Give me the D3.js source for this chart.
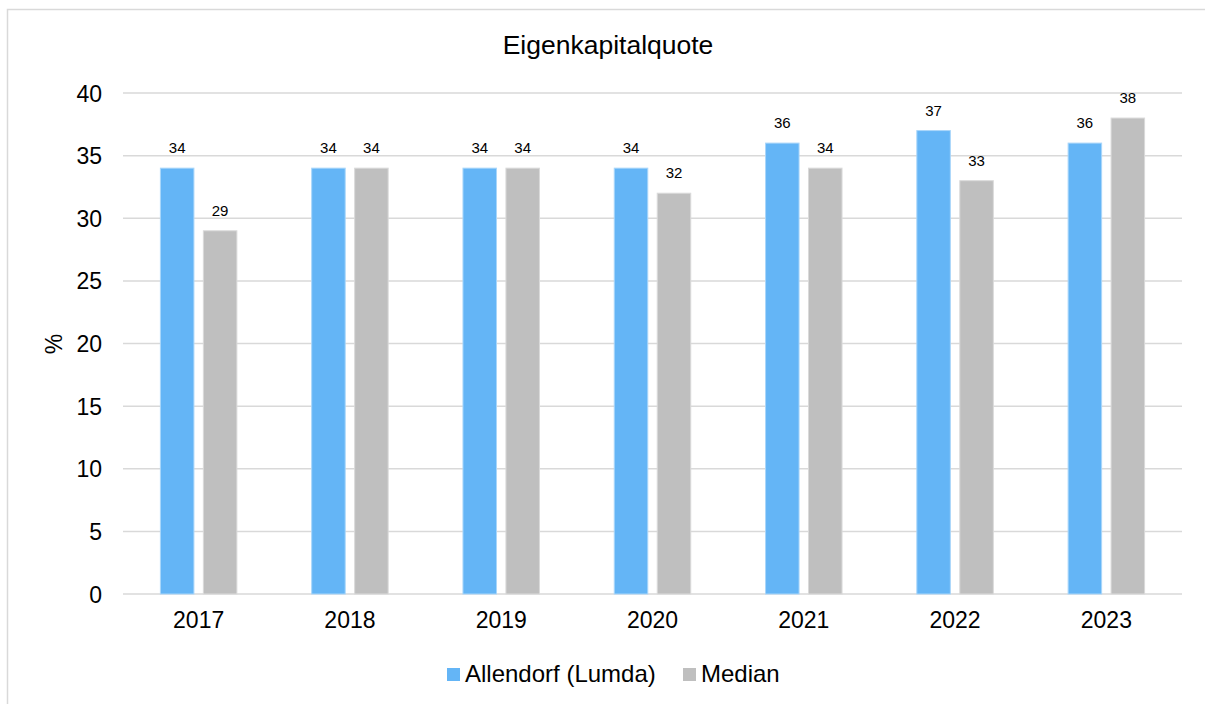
<!DOCTYPE html>
<html>
<head>
<meta charset="utf-8">
<script src="https://cdn.jsdelivr.net/npm/d3@7"></script>
<style>
  body { margin: 0; background: #fff; }
  svg text { font-family: "Liberation Sans", Arial, sans-serif; fill: #000; }
</style>
</head>
<body>
<svg id="chart" width="1205" height="704"></svg>
<script>
// chart data
var years = ["2017", "2018", "2019", "2020", "2021", "2022", "2023"];
var allendorf = [34, 34, 34, 34, 36, 37, 36];
var median = [29, 34, 34, 32, 34, 33, 38];
var seriesNames = ["Allendorf (Lumda)", "Median"];
var seriesColors = ["#64b5f6", "#bfbfbf"];
var yTicks = [0, 5, 10, 15, 20, 25, 30, 35, 40];

var svg = d3.select("#chart");

// outer frame (runs off right / bottom edge like the original)
svg.append("rect")
    .attr("x", 7.5).attr("y", 9.5)
    .attr("width", 1220).attr("height", 720)
    .attr("fill", "none")
    .attr("stroke", "#d9d9d9")
    .attr("stroke-width", 1.5);

var plotLeft = 123, plotRight = 1182, plotTop = 93, plotBottom = 594;

var x = d3.scaleBand().domain(years).range([plotLeft, plotRight]).paddingInner(0).paddingOuter(0);
var y = d3.scaleLinear().domain([0, 40]).range([plotBottom, plotTop]);

// inner band for the two bars of a group
var x1 = d3.scaleBand().domain([0, 1]).range([37.4, x.bandwidth() - 37.4]).paddingInner(0.22);

// gridlines
svg.append("g").attr("class", "grid")
    .selectAll("line")
    .data(yTicks)
    .enter()
    .append("line")
    .attr("x1", plotLeft).attr("x2", plotRight)
    .attr("y1", function(d){ return y(d); })
    .attr("y2", function(d){ return y(d); })
    .attr("stroke", "#d9d9d9")
    .attr("stroke-width", 1.5);

// y axis labels
var yAxis = d3.axisLeft(y).tickValues(yTicks).tickSize(0).tickPadding(21);
var yg = svg.append("g").attr("transform", "translate(" + plotLeft + ",0)").call(yAxis);
yg.select(".domain").remove();
yg.selectAll("text").style("font-size", "23px").attr("fill", "#000").attr("dy", "0.35em");

// x axis labels
var xAxis = d3.axisBottom(x).tickSize(0).tickPadding(18);
var xg = svg.append("g").attr("transform", "translate(0," + plotBottom + ")").call(xAxis);
xg.select(".domain").remove();
xg.selectAll("text").style("font-size", "23px").attr("fill", "#000");

// bars
var groups = svg.append("g").attr("class", "bars")
    .selectAll("g")
    .data(years)
    .enter()
    .append("g")
    .attr("transform", function(d){ return "translate(" + x(d) + ",0)"; });

var seriesVals = [allendorf, median];

groups.selectAll("rect")
    .data(function(d, i){ return [0, 1].map(function(s){ return {s: s, v: seriesVals[s][i]}; }); })
    .enter()
    .append("rect")
    .attr("x", function(d){ return x1(d.s); })
    .attr("width", x1.bandwidth())
    .attr("y", function(d){ return y(d.v); })
    .attr("height", function(d){ return y(0) - y(d.v); })
    .attr("fill", function(d){ return seriesColors[d.s]; })
    .attr("stroke", function(d){ return d.s === 0 ? "#a9d6fa" : "#dadada"; })
    .attr("stroke-width", 1);

// value labels
groups.selectAll("text")
    .data(function(d, i){ return [0, 1].map(function(s){ return {s: s, v: seriesVals[s][i]}; }); })
    .enter()
    .append("text")
    .attr("x", function(d){ return x1(d.s) + x1.bandwidth() / 2; })
    .attr("y", function(d){ return y(d.v) - 15; })
    .attr("text-anchor", "middle")
    .style("font-size", "15px")
    .text(function(d){ return d.v; });

// title
svg.append("text")
    .attr("x", 608).attr("y", 54)
    .attr("text-anchor", "middle")
    .style("font-size", "26.5px")
    .text("Eigenkapitalquote");

// y axis title
svg.append("text")
    .attr("transform", "translate(62,344) rotate(-90)")
    .attr("text-anchor", "middle")
    .style("font-size", "23px")
    .text("%");

// legend
var legendX = [447, 683];
var legend = svg.append("g").attr("class", "legend")
    .selectAll("g")
    .data(seriesNames)
    .enter()
    .append("g")
    .attr("transform", function(d, i){ return "translate(" + legendX[i] + ",668)"; });

legend.append("rect")
    .attr("width", 13).attr("height", 13)
    .attr("fill", function(d, i){ return seriesColors[i]; });

legend.append("text")
    .attr("x", 18).attr("y", 13.5)
    .style("font-size", "24px")
    .text(function(d){ return d; });
</script>
</body>
</html>
